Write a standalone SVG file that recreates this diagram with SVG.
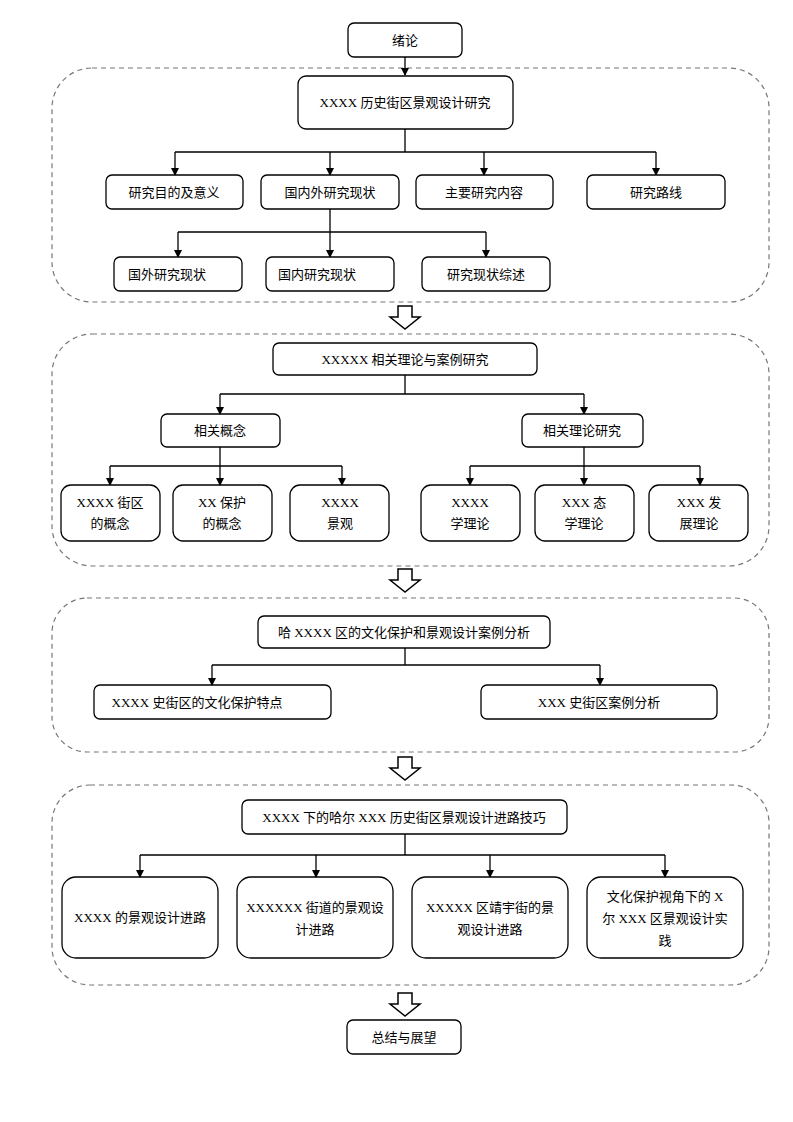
<svg xmlns="http://www.w3.org/2000/svg" width="793" height="1122" viewBox="0 0 793 1122">
<defs>
<style>
.b{fill:#fff;stroke:#000;stroke-width:1.3}
.r{fill:none;stroke:#777;stroke-width:1.2;stroke-dasharray:5,4}
.l{fill:none;stroke:#000;stroke-width:1.3}
.m{fill:none;stroke:#000;stroke-width:1.3;marker-end:url(#a)}
.h{fill:#fff;stroke:#000;stroke-width:1.5}
text{font-family:"Liberation Serif","Noto Sans CJK SC",serif;font-size:13px;text-anchor:middle;fill:#000}
</style>
<marker id="a" markerWidth="8" markerHeight="8" refX="7" refY="4" orient="auto" markerUnits="userSpaceOnUse"><path d="M0,0L8,4L0,8z"/></marker>
</defs>
<rect width="793" height="1122" fill="#fff"/>
<g id="regions">
<rect class="r" x="52" y="68" width="717" height="234" rx="40"/>
<rect class="r" x="52" y="334" width="717" height="232" rx="40"/>
<rect class="r" x="52" y="598" width="717" height="154" rx="35"/>
<rect class="r" x="52" y="785" width="717" height="200" rx="38"/>
</g>
<g id="connectors">
<path class="m" d="M405,57V75"/>
<path class="l" d="M405,129V152M175,152H656"/>
<path class="m" d="M175,152V175"/><path class="m" d="M330,152V175"/><path class="m" d="M484,152V175"/><path class="m" d="M656,152V175"/>
<path class="l" d="M330,209V232M178,232H486"/>
<path class="m" d="M178,232V257"/><path class="m" d="M330,232V257"/><path class="m" d="M486,232V257"/>
<path class="l" d="M405,375V394M220,394H584"/>
<path class="m" d="M220,394V414"/><path class="m" d="M584,394V414"/>
<path class="l" d="M220,447V466M110,466H342"/>
<path class="m" d="M110,466V485"/><path class="m" d="M220,466V485"/><path class="m" d="M342,466V485"/>
<path class="l" d="M584,447V466M470,466H700"/>
<path class="m" d="M470,466V485"/><path class="m" d="M584,466V485"/><path class="m" d="M700,466V485"/>
<path class="l" d="M405,648V665M212,665H600"/>
<path class="m" d="M212,665V685"/><path class="m" d="M600,665V685"/>
<path class="l" d="M405,834V855M140,855H665"/>
<path class="m" d="M140,855V877"/><path class="m" d="M316,855V877"/><path class="m" d="M490,855V877"/><path class="m" d="M665,855V877"/>
<path class="h" d="M398,306H412V317H420L405,329L390,317H398Z"/>
<path class="h" d="M398,569H412V580H420L405,592L390,580H398Z"/>
<path class="h" d="M398,757H412V768H420L405,780L390,768H398Z"/>
<path class="h" d="M398,993H412V1004H420L405,1016L390,1004H398Z"/>
</g>
<g id="n0"><rect class="b" x="348" y="23" width="114" height="34" rx="6"/><text x="405" y="45">绪论</text></g>
<g id="n1"><rect class="b" x="298" y="76" width="215" height="53" rx="8"/><text x="405" y="107">XXXX 历史街区景观设计研究</text></g>
<g id="n2"><rect class="b" x="106" y="175" width="137" height="34" rx="6"/><text x="174" y="197">研究目的及意义</text></g>
<g id="n3"><rect class="b" x="261" y="175" width="138" height="34" rx="6"/><text x="330" y="197">国内外研究现状</text></g>
<g id="n4"><rect class="b" x="416" y="175" width="137" height="34" rx="6"/><text x="484" y="197">主要研究内容</text></g>
<g id="n5"><rect class="b" x="587" y="175" width="138" height="34" rx="6"/><text x="656" y="197">研究路线</text></g>
<g id="n6"><rect class="b" x="114" y="257" width="128" height="34" rx="6"/><text x="167" y="279">国外研究现状</text></g>
<g id="n7"><rect class="b" x="266" y="257" width="128" height="34" rx="6"/><text x="317" y="279">国内研究现状</text></g>
<g id="n8"><rect class="b" x="422" y="257" width="128" height="34" rx="6"/><text x="486" y="279">研究现状综述</text></g>
<g id="n9"><rect class="b" x="273" y="343" width="264" height="32" rx="6"/><text x="405" y="364">XXXXX 相关理论与案例研究</text></g>
<g id="n10"><rect class="b" x="161" y="414" width="119" height="33" rx="6"/><text x="220" y="435">相关概念</text></g>
<g id="n11"><rect class="b" x="522" y="414" width="121" height="33" rx="6"/><text x="582" y="435">相关理论研究</text></g>
<g id="n12"><rect class="b" x="61" y="485" width="99" height="56" rx="10"/><text x="110" y="507">XXXX 街区</text><text x="110" y="528">的概念</text></g>
<g id="n13"><rect class="b" x="173" y="485" width="99" height="56" rx="10"/><text x="222" y="507">XX 保护</text><text x="222" y="528">的概念</text></g>
<g id="n14"><rect class="b" x="290" y="485" width="99" height="56" rx="10"/><text x="340" y="507">XXXX</text><text x="340" y="528">景观</text></g>
<g id="n15"><rect class="b" x="421" y="485" width="99" height="56" rx="10"/><text x="470" y="507">XXXX</text><text x="470" y="528">学理论</text></g>
<g id="n16"><rect class="b" x="535" y="485" width="99" height="56" rx="10"/><text x="584" y="507">XXX 态</text><text x="584" y="528">学理论</text></g>
<g id="n17"><rect class="b" x="649" y="485" width="99" height="56" rx="10"/><text x="699" y="507">XXX 发</text><text x="699" y="528">展理论</text></g>
<g id="n18"><rect class="b" x="258" y="616" width="292" height="32" rx="6"/><text x="404" y="637">哈 XXXX 区的文化保护和景观设计案例分析</text></g>
<g id="n19"><rect class="b" x="94" y="685" width="237" height="34" rx="6"/><text x="197" y="707">XXXX 史街区的文化保护特点</text></g>
<g id="n20"><rect class="b" x="481" y="685" width="236" height="34" rx="6"/><text x="599" y="707">XXX 史街区案例分析</text></g>
<g id="n21"><rect class="b" x="242" y="800" width="325" height="34" rx="6"/><text x="404" y="822">XXXX 下的哈尔 XXX 历史街区景观设计进路技巧</text></g>
<g id="n22"><rect class="b" x="62" y="877" width="156" height="81" rx="14"/><text x="140" y="922">XXXX 的景观设计进路</text></g>
<g id="n23"><rect class="b" x="237" y="877" width="156" height="81" rx="14"/><text x="315" y="912">XXXXXX 街道的景观设</text><text x="315" y="934">计进路</text></g>
<g id="n24"><rect class="b" x="412" y="877" width="156" height="81" rx="14"/><text x="490" y="912">XXXXX 区靖宇街的景</text><text x="490" y="934">观设计进路</text></g>
<g id="n25"><rect class="b" x="587" y="877" width="156" height="81" rx="14"/><text x="665" y="901">文化保护视角下的 X</text><text x="665" y="923">尔 XXX 区景观设计实</text><text x="665" y="945">践</text></g>
<g id="n26"><rect class="b" x="347" y="1020" width="114" height="34" rx="6"/><text x="404" y="1042">总结与展望</text></g>
</svg>
